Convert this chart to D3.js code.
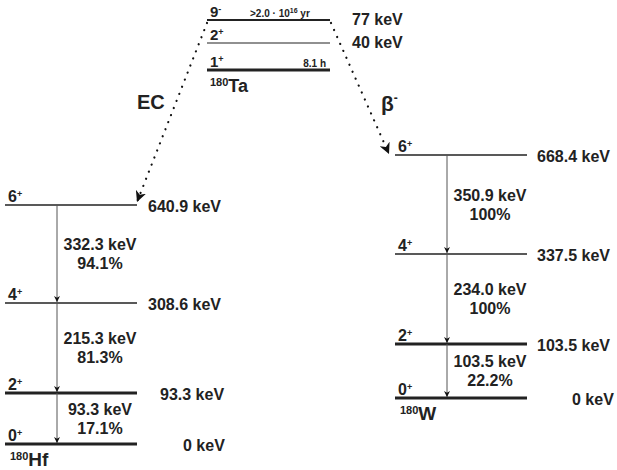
<!DOCTYPE html>
<html><head><meta charset="utf-8">
<script src="https://cdn.jsdelivr.net/npm/d3@7"></script>
<style>
body{margin:0;background:#fff}
text{font-family:"Liberation Sans",Arial,Helvetica,sans-serif;font-weight:bold;fill:#222}
</style></head>
<body>
<script>
// ---- data ----
const taLevels = [0, 40, 77];           // keV
const taSpins = ["1", "2", "9"];
const taParity = ["+", "+", "-"];
const taLabels = ["", "40 keV", "77 keV"];
const taHalfLives = ["8.1 h", "", ">2.0 · 10"];

const hfLevels = [0, 93.3, 308.6, 640.9];
const hfSpins = ["0", "2", "4", "6"];
const hfLabels = ["0 keV", "93.3 keV", "308.6 keV", "640.9 keV"];
const hfGammaE = ["93.3 keV", "215.3 keV", "332.3 keV"];
const hfGammaI = ["17.1%", "81.3%", "94.1%"];

const wLevels = [0, 103.5, 337.5, 668.4];
const wSpins = ["0", "2", "4", "6"];
const wLabels = ["0 keV", "103.5 keV", "337.5 keV", "668.4 keV"];
const wGammaE = ["103.5 keV", "234.0 keV", "350.9 keV"];
const wGammaI = ["22.2%", "100%", "100%"];

const decayModes = ["EC", "β"];

// ---- scales (schematic, piecewise) ----
const yTa = d3.scaleLinear().domain([0, 40, 77]).range([70, 43, 20]);
const yHf = d3.scaleLinear().domain([0, 93.3, 308.6, 640.9]).range([444, 393, 303, 205]);
const yW = d3.scaleLinear().domain([0, 103.5, 337.5, 668.4]).range([398, 344, 254, 155]);

const W = 617, H = 470;
const svg = d3.select("body").append("svg").attr("width", W).attr("height", H);
const defs = svg.append("defs");
function marker(id, size) {
  defs.append("marker").attr("id", id).attr("viewBox", "0 0 10 10")
    .attr("refX", 10).attr("refY", 5).attr("markerWidth", size).attr("markerHeight", size)
    .attr("markerUnits", "userSpaceOnUse").attr("orient", "auto")
    .append("path").attr("d", "M0,0 L10,5 L0,10 L3,5 Z").attr("fill", "#111");
}
marker("ah", 6);
marker("ah2", 11);

const lineCol = "#222";

// ---- Ta ----
const taX = [207, 330];
const taW = [3, 1.2, 2.2];
const taG = svg.append("g");
taG.selectAll("line").data(taLevels).join("line")
  .attr("x1", taX[0]).attr("x2", taX[1])
  .attr("y1", d => yTa(d)).attr("y2", d => yTa(d))
  .attr("stroke", lineCol).attr("stroke-width", (d, i) => taW[i]);
taLevels.forEach((d, i) => {
  const t = taG.append("text").attr("x", 210).attr("y", yTa(d) - 3).attr("font-size", 15);
  t.append("tspan").text(taSpins[i]);
  t.append("tspan").attr("font-size", 9).attr("dy", -5).text(taParity[i]);
  if (taLabels[i]) taG.append("text").attr("x", 352).attr("y", yTa(d) + 5).attr("font-size", 16).text(taLabels[i]);
});
// half-lives
taG.append("text").attr("x", 326).attr("y", yTa(0) - 3).attr("font-size", 10).attr("text-anchor", "end")
  .text(taHalfLives[0]);
const hl = taG.append("text").attr("x", 250).attr("y", yTa(77) - 3).attr("font-size", 10);
hl.append("tspan").text(taHalfLives[2]);
hl.append("tspan").attr("font-size", 7).attr("dy", -4).text("16");
hl.append("tspan").attr("dy", 4).text(" yr");
const taName = taG.append("text").attr("x", 210).attr("y", 92).attr("font-size", 18);
taName.append("tspan").attr("font-size", 11).attr("dy", -6).text("180");
taName.append("tspan").attr("dy", 6).text("Ta");

// ---- level scheme builder ----
function scheme(levels, spins, labels, gE, gI, y, x0, x1, gx, name, labelX) {
  const g = svg.append("g");
  const widths = [3, 3, 1.3, 1.3];
  g.selectAll("line.lvl").data(levels).join("line").attr("class", "lvl")
    .attr("x1", x0).attr("x2", x1)
    .attr("y1", d => y(d)).attr("y2", d => y(d))
    .attr("stroke", lineCol).attr("stroke-width", (d, i) => widths[i]);
  // gamma arrows
  for (let i = 0; i < levels.length - 1; i++) {
    g.append("line").attr("x1", gx).attr("x2", gx)
      .attr("y1", y(levels[i + 1])).attr("y2", y(levels[i]) - 1)
      .attr("stroke", "#555").attr("stroke-width", 1).attr("marker-end", "url(#ah)");
    const ym = (y(levels[i + 1]) + y(levels[i])) / 2;
    g.append("text").attr("x", gx + 43).attr("y", ym - 4).attr("font-size", 16)
      .attr("text-anchor", "middle").text(gE[i]);
    g.append("text").attr("x", gx + 43).attr("y", ym + 15).attr("font-size", 16)
      .attr("text-anchor", "middle").text(gI[i]);
  }
  levels.forEach((d, i) => {
    const t = g.append("text").attr("x", x0 + 3).attr("y", y(d) - 3).attr("font-size", 16);
    t.append("tspan").text(spins[i]);
    t.append("tspan").attr("font-size", 9).attr("dy", -5).text("+");
    g.append("text").attr("x", labelX[i]).attr("y", y(d) + 7).attr("font-size", 16).text(labels[i]);
  });
  const n = g.append("text").attr("x", x0 + 5).attr("y", y(0) + 22).attr("font-size", 19);
  n.append("tspan").attr("font-size", 11).attr("dy", -6).text("180");
  n.append("tspan").attr("dy", 6).text(name);
}
scheme(hfLevels, hfSpins, hfLabels, hfGammaE, hfGammaI, yHf, 5, 137, 57, "Hf", [183, 160, 148, 148]);
scheme(wLevels, wSpins, wLabels, wGammaE, wGammaI, yW, 395, 527, 447, "W", [572, 537, 537, 537]);

// ---- decay branches (dotted) ----
function dotted(xa, ya, xb, yb) {
  svg.append("line").attr("x1", xa).attr("y1", ya).attr("x2", xb).attr("y2", yb)
    .attr("stroke", "#111").attr("stroke-width", 2.2).attr("stroke-linecap", "round")
    .attr("stroke-dasharray", "0.1 7.5");
  svg.append("line").attr("x1", xa + (xb - xa) * 0.9).attr("y1", ya + (yb - ya) * 0.9)
    .attr("x2", xb).attr("y2", yb).attr("stroke", "none").attr("marker-end", "url(#ah2)");
}
dotted(207, 23, 137, 202);
dotted(331, 23, 389, 154);

svg.append("text").attr("x", 137).attr("y", 109).attr("font-size", 20).text(decayModes[0]);
const b = svg.append("text").attr("x", 381).attr("y", 111).attr("font-size", 21);
b.append("tspan").text(decayModes[1]);
b.append("tspan").attr("font-size", 12).attr("dy", -9).text("-");
</script>
</body></html>
